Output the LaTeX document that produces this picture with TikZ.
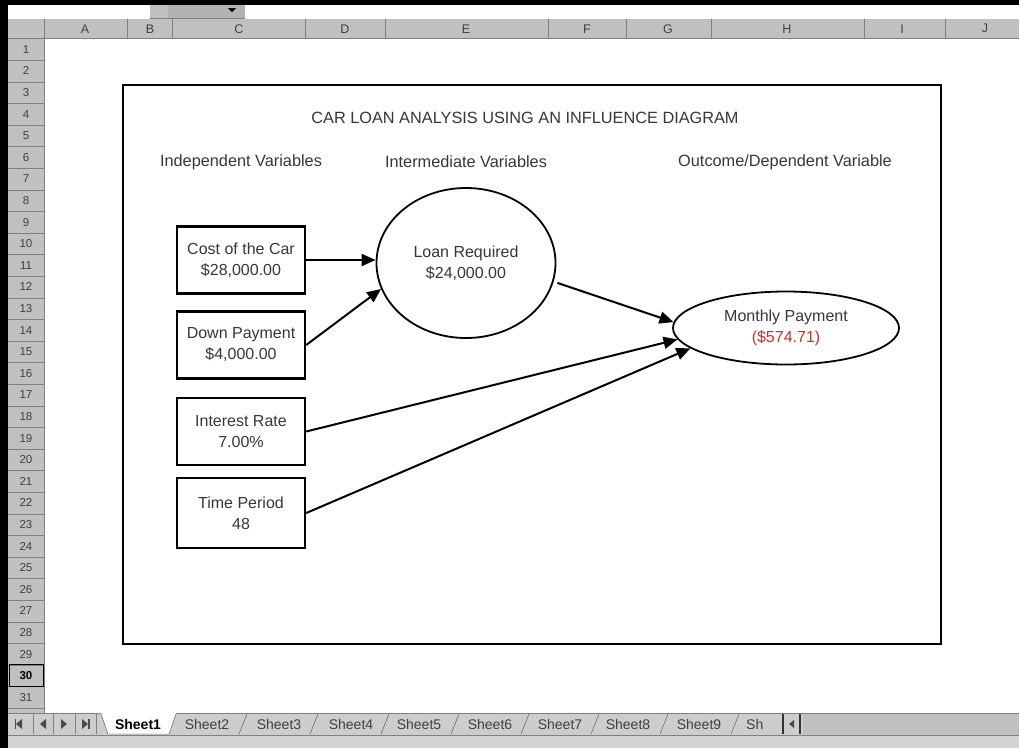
\documentclass[tikz,border=0pt]{standalone}
\usepackage{fontspec}
\setmainfont{Liberation Sans}
\usepackage{xcolor}
\usepackage{tikz}
\usetikzlibrary{
    positioning,
    arrows.meta,
    shapes.geometric
}
\definecolor{cellGray}{RGB}{192, 192, 192}
\definecolor{edgeGray}{RGB}{128, 128, 128}
\definecolor{inkGray}{RGB}{55, 55, 55}
\definecolor{payRed}{RGB}{205, 45, 45}

\tikzset{
    heading/.style={text=inkGray, font=\fontsize{16.3}{20}\selectfont, inner sep=0pt},
    varbox/.style={draw, line width=2.4pt, minimum width=128pt, minimum height=67pt,
        align=center, text=inkGray, font=\fontsize{16}{21}\selectfont, inner sep=0pt},
    varoval/.style={ellipse, draw, line width=1.8pt, align=center, text=inkGray,
        font=\fontsize{16}{21}\selectfont, inner sep=0pt},
    influence/.style={line width=2pt, -{Triangle[length=14pt, width=12pt]}},
    colhdr/.style={text=black!75, font=\fontsize{12.5}{13}\selectfont, inner sep=0pt},
    rowhdr/.style={text=black!75, font=\fontsize{11.5}{12}\selectfont, inner sep=0pt},
    sheettab/.style={text=black!75, font=\fontsize{14}{14}\selectfont, inner sep=0pt}
}

\begin{document}
\begin{tikzpicture}[x=1pt, y=-1pt]
    \useasboundingbox (0,0) rectangle (1019,748);
    % window
    \fill[white] (0,0) rectangle (1019,748);
    \fill[black] (0,0) rectangle (1019,5);
    \fill[black] (0,0) rectangle (8,748);
    % toolbar remnant
    \fill[cellGray] (150,5) rectangle (168,18);
    \fill[black!30] (168,5) rectangle (245,18);
    \draw[edgeGray] (150,18) -- (245,18);
    \fill[black] (228,8) -- (236,8) -- (232,12) -- cycle;
    
    % column header
    \fill[cellGray] (8,19) rectangle (1019,38.5);
    \draw[edgeGray] (8,38.5) -- (1019,38.5);
    \foreach \x in {44,127,172,305,385,548,626,711,864,945}
        \draw[edgeGray] (\x,19) -- (\x,38.5);
    \foreach \x/\c in {85/A,150/B,239/C,345/D,466/E,587/F,668/G,787/H,902/I,985/J}
        \node[colhdr] (col\c) at (\x,28.7) {\c};
    
    % row header
    \fill[cellGray] (8,38.5) rectangle (44,713);
    \draw[edgeGray] (44,38.5) -- (44,713);
    \foreach \r in {1,...,31}
        \draw[edgeGray] (8,{38.5+\r*21.6}) -- (44,{38.5+\r*21.6});
    \foreach \r in {1,...,29,31}
        \node[rowhdr] (row\r) at (26,{27.7+\r*21.6}) {\r};
    \draw[black, line width=1pt] (9,{38.5+29*21.6}) rectangle (43,{38.5+30*21.6});
    \node[rowhdr, font=\bfseries\fontsize{11.5}{12}\selectfont, text=black] (row30) at (26,{27.7+30*21.6}) {30};
    
    % sheet tabs
    \fill[cellGray!80] (8,713) rectangle (1019,735);
    \fill[cellGray] (803,713) rectangle (1019,735);
    \fill[cellGray!70] (8,735) rectangle (1019,748);
    \draw[edgeGray] (8,735) -- (1019,735);
    \draw[edgeGray] (8,713) -- (1019,713);
    \fill[white] (101,713) -- (108,734) -- (169,734) -- (176,713) -- cycle;
    \draw[black!70] (101,714) -- (108,734) -- (169,734) -- (176,714);
    \foreach \x in {33,53,75,96}
        \draw[edgeGray] (\x,714) -- (\x,734);
    \fill[black!70] (16,724) -- (22,719) -- (22,729) -- cycle;
    \fill[black!70] (14.5,719) rectangle (16,729);
    \fill[black!70] (40,724) -- (46,719) -- (46,729) -- cycle;
    \fill[black!70] (61,719) -- (67,724) -- (61,729) -- cycle;
    \fill[black!70] (82,719) -- (88,724) -- (82,729) -- cycle;
    \fill[black!70] (88,719) rectangle (89.5,729);
    \node[sheettab, font=\bfseries\fontsize{14}{14}\selectfont, text=black] (tab1) at (138,724) {Sheet1};
    \foreach \x/\n in {243/2,314/3,385/4,455/5,525/6,595/7,664/8}
        \draw[black!70] (\x-4,734) -- (\x+4,714);
    \foreach \x/\n in {207/2,279/3,351/4,419/5,490/6,560/7,628/8,699/9}
        \node[sheettab] (tab\n) at (\x,724) {Sheet\n};
    \draw[black!70] (731,734) -- (739,714);
    \node[sheettab, anchor=west] (tab10) at (746,724) {Sh};
    \draw[black!80, line width=1.5pt] (783,714) -- (783,734);
    \draw[black!80, line width=1.5pt] (800,714) -- (800,734);
    \fill[black!70] (789,724) -- (794,720) -- (794,728) -- cycle;
    
    % diagram frame
    \draw[line width=1.8pt] (123,85) rectangle (941,644);
    
    % headings
    \node[heading] (title) at (525,118) {CAR LOAN ANALYSIS USING AN INFLUENCE DIAGRAM};
    \node[heading] (indep) at (241,162) {Independent Variables};
    \node[heading] (inter) at (466,162) {Intermediate Variables};
    \node[heading] (outc) at (785,162) {Outcome/Dependent Variable};
    
    % independent variables
    \node[varbox] (cost) at (241,260) {Cost of the Car\\\$28,000.00};
    \node[varbox] (down) at (241,345) {Down Payment\\\$4,000.00};
    \node[varbox] (rate) at (241,431.5) {Interest Rate\\7.00\%};
    \node[varbox, minimum height=70pt] (time) at (241,513) {Time Period\\48};
    
    % intermediate and outcome
    \node[varoval, minimum width=179pt, minimum height=150pt] (loan) at (466,263) {Loan Required\\\$24,000.00};
    \node[varoval, minimum width=226pt, minimum height=73pt] (pay) at (786,328) {Monthly Payment\\\textcolor{payRed}{(\$574.71)}};
    
    % influences
    \draw[influence] (cost.east) -- (loan.west |- cost.east);
    \draw[influence] (down.east) -- (loan.197);
    \draw[influence, shorten <=4pt] (loan.348) -- (pay.177);
    \draw[influence] (rate.east) -- (pay.186);
    \draw[influence] (time.east) -- (pay.192);
\end{tikzpicture}
\end{document}
